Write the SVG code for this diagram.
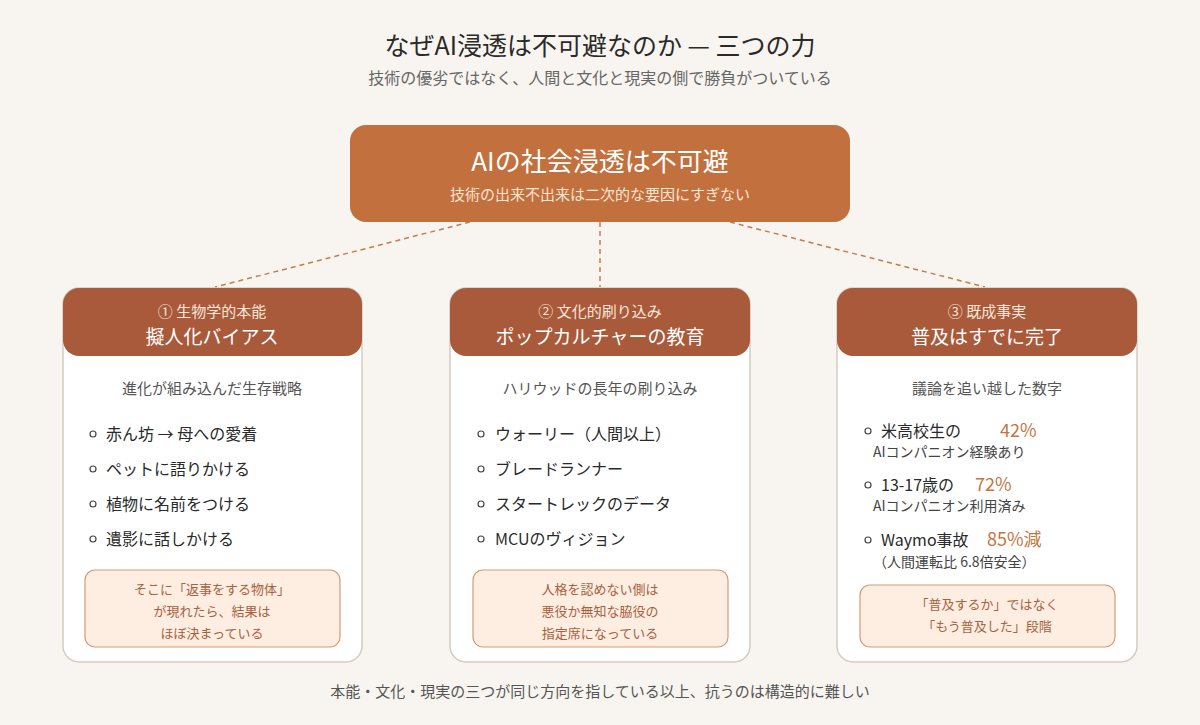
<svg xmlns="http://www.w3.org/2000/svg" width="1200" height="725" viewBox="0 0 1200 725">
<defs>
<style>
text{font-family:"Noto Sans CJK JP","Noto Sans",sans-serif;}
.c{text-anchor:middle;}
.card{fill:#ffffff;stroke:#d3cbc0;stroke-width:1.5;}
.head{fill:#a95a3b;}
.ht1{font-size:15px;fill:#f8e6da;}
.ht2{font-size:19px;fill:#ffffff;}
.sub{font-size:15px;fill:#555;}
.item{font-size:16px;fill:#2a2a2a;}
.bul{fill:none;stroke:#444;stroke-width:1.2;}
.note{fill:#fdeee1;stroke:#d89a72;stroke-width:1.2;}
.nt{font-size:13px;fill:#a8613f;}
.pct{font-size:18px;fill:#c2763f;}
.sm{font-size:14px;fill:#444;}
.conn{stroke:#c77a4c;stroke-width:1.5;stroke-dasharray:5 4;fill:none;}
</style>
</defs>
<rect width="1200" height="725" fill="#f8f5f0"/>
<g id="title">
<text x="600" y="55" class="c" font-size="25" fill="#2a2a2a">なぜAI浸透は不可避なのか — 三つの力</text>
<text x="600" y="84" class="c" font-size="16" fill="#666">技術の優劣ではなく、人間と文化と現実の側で勝負がついている</text>
</g>
<g id="connectors">
<line class="conn" x1="470" y1="222" x2="215" y2="287"/>
<line class="conn" x1="600" y1="222" x2="600" y2="287"/>
<line class="conn" x1="730" y1="222" x2="985" y2="287"/>
</g>
<g id="main">
<rect x="350" y="125" width="500" height="97" rx="16" fill="#c2703e"/>
<text x="600" y="171" class="c" font-size="26" fill="#ffffff">AIの社会浸透は不可避</text>
<text x="600" y="200" class="c" font-size="15" fill="#fbe3d2">技術の出来不出来は二次的な要因にすぎない</text>
</g>
<g id="card1">
<rect class="card" x="63" y="288" width="299" height="374" rx="16"/>
<path class="head" d="M63,304 a16,16 0 0 1 16,-16 h267 a16,16 0 0 1 16,16 v36 a16,16 0 0 1 -16,16 h-267 a16,16 0 0 1 -16,-16 z"/>
<text x="212" y="317" class="c ht1">① 生物学的本能</text>
<text x="212" y="344" class="c ht2">擬人化バイアス</text>
<text x="212" y="394" class="c sub">進化が組み込んだ生存戦略</text>
<circle class="bul" cx="93" cy="434" r="3"/><text x="106" y="440" class="item">赤ん坊 → 母への愛着</text>
<circle class="bul" cx="93" cy="469" r="3"/><text x="106" y="475" class="item">ペットに語りかける</text>
<circle class="bul" cx="93" cy="504" r="3"/><text x="106" y="510" class="item">植物に名前をつける</text>
<circle class="bul" cx="93" cy="539" r="3"/><text x="106" y="545" class="item">遺影に話しかける</text>
<rect class="note" x="85" y="570" width="255" height="77" rx="10"/>
<text x="212" y="594" class="c nt">そこに「返事をする物体」</text>
<text x="212" y="616" class="c nt">が現れたら、結果は</text>
<text x="212" y="638" class="c nt">ほぼ決まっている</text>
</g>
<g id="card2">
<rect class="card" x="450" y="288" width="300" height="374" rx="16"/>
<path class="head" d="M450,304 a16,16 0 0 1 16,-16 h268 a16,16 0 0 1 16,16 v36 a16,16 0 0 1 -16,16 h-268 a16,16 0 0 1 -16,-16 z"/>
<text x="600" y="317" class="c ht1">② 文化的刷り込み</text>
<text x="600" y="344" class="c ht2">ポップカルチャーの教育</text>
<text x="600" y="394" class="c sub">ハリウッドの長年の刷り込み</text>
<circle class="bul" cx="481" cy="434" r="3"/><text x="495" y="440" class="item">ウォーリー（人間以上）</text>
<circle class="bul" cx="481" cy="469" r="3"/><text x="495" y="475" class="item">ブレードランナー</text>
<circle class="bul" cx="481" cy="504" r="3"/><text x="495" y="510" class="item">スタートレックのデータ</text>
<circle class="bul" cx="481" cy="539" r="3"/><text x="495" y="545" class="item">MCUのヴィジョン</text>
<rect class="note" x="473" y="570" width="255" height="77" rx="10"/>
<text x="600" y="594" class="c nt">人格を認めない側は</text>
<text x="600" y="616" class="c nt">悪役か無知な脇役の</text>
<text x="600" y="638" class="c nt">指定席になっている</text>
</g>
<g id="card3">
<rect class="card" x="837" y="288" width="300" height="374" rx="16"/>
<path class="head" d="M837,304 a16,16 0 0 1 16,-16 h268 a16,16 0 0 1 16,16 v36 a16,16 0 0 1 -16,16 h-268 a16,16 0 0 1 -16,-16 z"/>
<text x="987" y="317" class="c ht1">③ 既成事実</text>
<text x="987" y="344" class="c ht2">普及はすでに完了</text>
<text x="987" y="394" class="c sub">議論を追い越した数字</text>
<circle class="bul" cx="868" cy="431" r="3"/><text x="881" y="437" class="item">米高校生の</text><text x="1000" y="437" class="pct">42%</text>
<text x="873" y="457" class="sm">AIコンパニオン経験あり</text>
<circle class="bul" cx="868" cy="485" r="3"/><text x="881" y="491" class="item">13-17歳の</text><text x="975" y="491" class="pct">72%</text>
<text x="873" y="511" class="sm">AIコンパニオン利用済み</text>
<circle class="bul" cx="868" cy="540" r="3"/><text x="881" y="546" class="item">Waymo事故</text><text x="987" y="546" class="pct">85%減</text>
<text x="873" y="567" class="sm">（人間運転比 6.8倍安全）</text>
<rect class="note" x="860" y="585" width="255" height="62" rx="10"/>
<text x="987" y="609" class="c nt">「普及するか」ではなく</text>
<text x="987" y="631" class="c nt">「もう普及した」段階</text>
</g>
<g id="footer">
<text x="600" y="697" class="c" font-size="15" fill="#555">本能・文化・現実の三つが同じ方向を指している以上、抗うのは構造的に難しい</text>
</g>
</svg>
